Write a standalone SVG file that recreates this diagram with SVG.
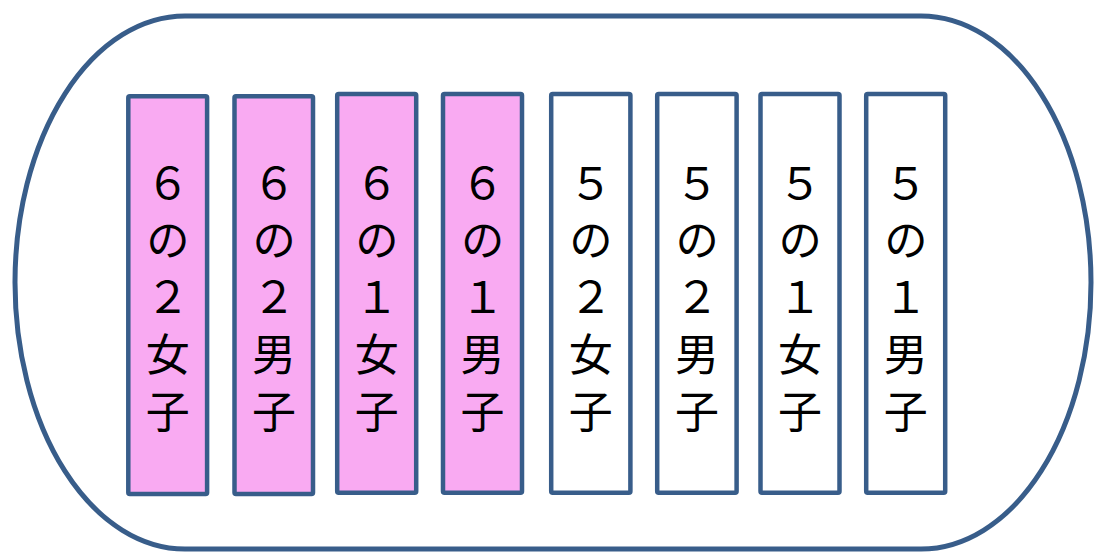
<svg xmlns="http://www.w3.org/2000/svg" width="1094" height="554" viewBox="0 0 1094 554">
<style>
.frame{fill:#ffffff;stroke:#385D8A;stroke-width:5}
.col{stroke:#385D8A;stroke-width:4.5}
.pink{fill:#F9AAF2}
.white{fill:#ffffff}
.lbl{font-family:"Noto Sans CJK JP","Noto Sans CJK SC",sans-serif;font-size:44px;fill:#000000;writing-mode:vertical-rl;text-orientation:upright;letter-spacing:13px}
</style>
<rect width="1094" height="554" fill="#ffffff"/>
<g id="frame">
<rect class="frame" x="15" y="16" width="1076" height="533" rx="170" ry="266.5"/>
</g>
<g id="col-6-2-girls">
<rect class="col pink" x="128.3" y="96.2" width="78.8" height="397.8" rx="1.5"/>
<text class="lbl" x="167.8" y="161">６の２女子</text>
</g>
<g id="col-6-2-boys">
<rect class="col pink" x="234.5" y="96.2" width="78.5" height="397.8" rx="1.5"/>
<text class="lbl" x="274" y="161">６の２男子</text>
</g>
<g id="col-6-1-girls">
<rect class="col pink" x="337.2" y="94" width="79" height="398.8" rx="1.5"/>
<text class="lbl" x="376.7" y="161">６の１女子</text>
</g>
<g id="col-6-1-boys">
<rect class="col pink" x="443" y="94" width="79" height="398.8" rx="1.5"/>
<text class="lbl" x="482.5" y="161">６の１男子</text>
</g>
<g id="col-5-2-girls">
<rect class="col white" x="551.2" y="94" width="79.2" height="398.8" rx="1.5"/>
<text class="lbl" x="590.8" y="161">５の２女子</text>
</g>
<g id="col-5-2-boys">
<rect class="col white" x="657.2" y="94" width="79.4" height="398.8" rx="1.5"/>
<text class="lbl" x="696.9" y="161">５の２男子</text>
</g>
<g id="col-5-1-girls">
<rect class="col white" x="760.5" y="94" width="79" height="398.8" rx="1.5"/>
<text class="lbl" x="800" y="161">５の１女子</text>
</g>
<g id="col-5-1-boys">
<rect class="col white" x="866.2" y="94" width="79" height="398.8" rx="1.5"/>
<text class="lbl" x="905.7" y="161">５の１男子</text>
</g>
<g id="connectors"></g>
</svg>
